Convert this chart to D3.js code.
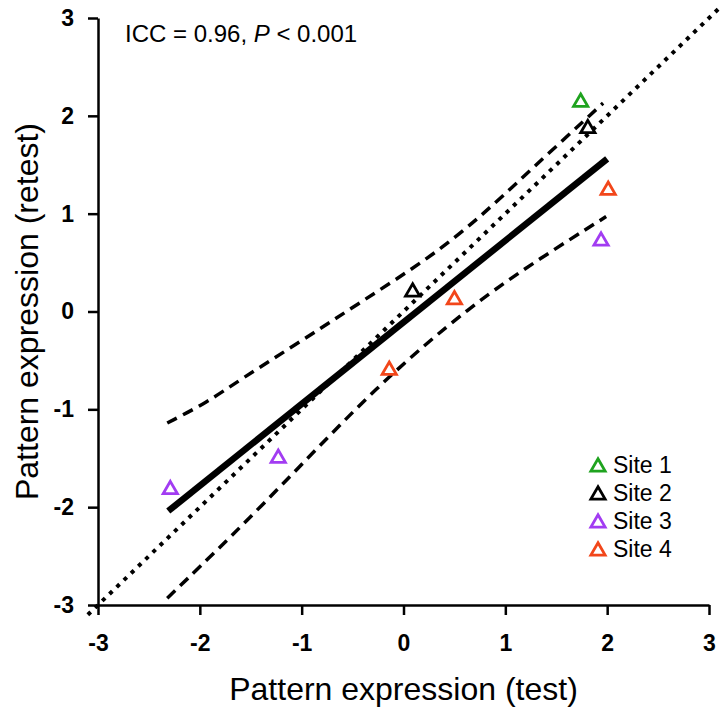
<!DOCTYPE html>
<html>
<head>
<meta charset="utf-8">
<script src="https://cdn.jsdelivr.net/npm/d3@7"></script>
<style>
  body { margin: 0; background: #fff; }
  text { font-family: "Liberation Sans", Arial, sans-serif; }
</style>
</head>
<body>
<div id="chart"></div>
<script>
// Points (test, retest) per site
const sites = ["Site 1", "Site 2", "Site 3", "Site 4"];
const siteColors = ["#1fa31f", "#000000", "#a23cf2", "#f2461a"];
const testValues = [[1.74], [0.09, 1.81], [-2.29, -1.23, 1.94], [-0.14, 0.50, 2.01]];
const retestValues = [[2.16], [0.22, 1.89], [-1.80, -1.48, 0.74], [-0.58, 0.14, 1.26]];

// Regression line end points
const fitX = [-2.31, 2.0];
const fitY = [-2.04, 1.56];

// Confidence band (dashed)
const upperX = [-2.32, -1.93, -1.61, -1.0, -0.43, 0.26, 0.76, 1.22, 1.96];
const upperY = [-1.14, -0.93, -0.70, -0.30, 0.09, 0.55, 0.97, 1.42, 2.13];
const lowerX = [-2.32, -1.70, -1.05, -0.23, 0.66, 1.35, 1.99];
const lowerY = [-2.93, -2.31, -1.62, -0.73, 0.06, 0.55, 0.97];

// Line of identity (dotted)
const identity = [-3.1, 3.09];

const ticks = [-3, -2, -1, 0, 1, 2, 3];

const width = 726, height = 721;

const svg = d3.select("#chart").append("svg")
  .attr("width", width)
  .attr("height", height);

const x = d3.scaleLinear().domain([-3, 3]).range([98, 709]);
const y = d3.scaleLinear().domain([-3, 3]).range([605, 18]);

const line = d3.line().x((d) => x(d[0])).y((d) => y(d[1]));
const curve = d3.line().x((d) => x(d[0])).y((d) => y(d[1])).curve(d3.curveBasis);

// identity line
svg.append("path")
  .attr("d", line(identity.map((v) => [v, v])))
  .attr("fill", "none")
  .attr("stroke", "#000")
  .attr("stroke-width", 4)
  .attr("stroke-dasharray", "4,6");

// confidence band
[[upperX, upperY], [lowerX, lowerY]].forEach(([xs, ys]) => {
  svg.append("path")
    .attr("d", curve(xs.map((v, i) => [v, ys[i]])))
    .attr("fill", "none")
    .attr("stroke", "#000")
    .attr("stroke-width", 3.5)
    .attr("stroke-dasharray", "11,7");
});

// regression line
svg.append("path")
  .attr("d", line(fitX.map((v, i) => [v, fitY[i]])))
  .attr("fill", "none")
  .attr("stroke", "#000")
  .attr("stroke-width", 6.5);

// axes
const fmt = (d) => String(d);
const xAxis = svg.append("g")
  .attr("transform", `translate(0,${y(-3)})`)
  .call(d3.axisBottom(x).tickValues(ticks).tickFormat(fmt).tickSize(10).tickSizeOuter(0).tickPadding(20));

const yAxis = svg.append("g")
  .attr("transform", `translate(${x(-3)},0)`)
  .call(d3.axisLeft(y).tickValues(ticks).tickFormat(fmt).tickSize(10).tickSizeOuter(0).tickPadding(14));

[xAxis, yAxis].forEach((g) => {
  g.select(".domain").attr("stroke-width", 2.5);
  g.selectAll(".tick line").attr("stroke-width", 2.5);
  g.selectAll(".tick text")
    .attr("font-size", 23)
    .attr("font-weight", "bold")
    .attr("font-family", "Liberation Sans, Arial, sans-serif")
    .attr("fill", "#000");
});

// points
const tri = d3.symbol().type(d3.symbolTriangle).size(88);
sites.forEach((s, k) => {
  svg.append("g")
    .selectAll("path")
    .data(testValues[k].map((v, i) => [v, retestValues[k][i]]))
    .enter()
    .append("path")
    .attr("d", tri)
    .attr("transform", (d) => `translate(${x(d[0])},${y(d[1]) + 2})`)
    .attr("fill", "none")
    .attr("stroke", siteColors[k])
    .attr("stroke-width", 2.8);
});

// legend
const legend = svg.append("g").attr("transform", "translate(598,465)");
sites.forEach((s, k) => {
  const row = legend.append("g").attr("transform", `translate(0,${k * 28})`);
  row.append("path")
    .attr("d", tri)
    .attr("transform", "translate(0,2)")
    .attr("fill", "none")
    .attr("stroke", siteColors[k])
    .attr("stroke-width", 2.8);
  row.append("text")
    .attr("x", 15)
    .attr("y", 8)
    .attr("font-size", 23)
    .text(s);
});

// annotation
const note = svg.append("text")
  .attr("x", 125)
  .attr("y", 42)
  .attr("font-size", 24);
note.append("tspan").text("ICC = 0.96, ");
note.append("tspan").attr("font-style", "italic").text("P");
note.append("tspan").text(" < 0.001");

// axis titles
svg.append("text")
  .attr("x", x(0))
  .attr("y", 700)
  .attr("text-anchor", "middle")
  .attr("font-size", 32)
  .text("Pattern expression (test)");

svg.append("text")
  .attr("transform", `translate(38,${y(0)}) rotate(-90)`)
  .attr("text-anchor", "middle")
  .attr("font-size", 32)
  .text("Pattern expression (retest)");
</script>
</body>
</html>
